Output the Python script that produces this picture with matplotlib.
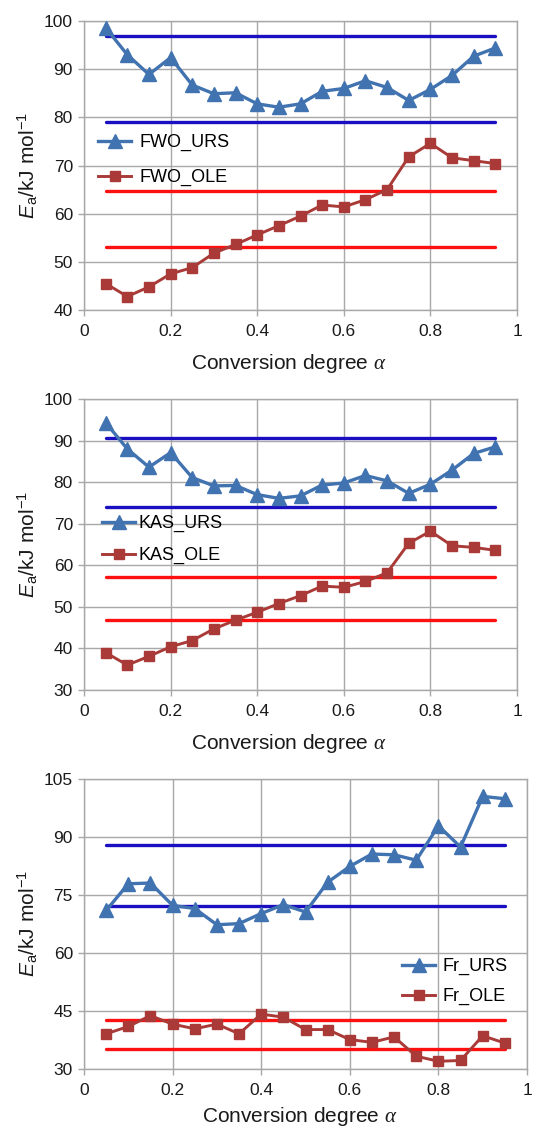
import matplotlib
matplotlib.use("Agg")
import matplotlib.pyplot as plt
import numpy as np

plt.rcParams['font.family'] = ['Liberation Sans', 'DejaVu Sans']
plt.rcParams['mathtext.fontset'] = 'custom'
plt.rcParams['mathtext.rm'] = 'Liberation Sans'
plt.rcParams['mathtext.it'] = 'Liberation Serif:italic'
plt.rcParams['mathtext.sf'] = 'Liberation Sans:italic'

alpha = [0.05, 0.1, 0.15, 0.2, 0.25, 0.3, 0.35, 0.4, 0.45, 0.5,
         0.55, 0.6, 0.65, 0.7, 0.75, 0.8, 0.85, 0.9, 0.95]

# FWO method
fwo_urs = [98.6, 93.0, 88.9, 92.4, 86.7, 84.9, 85.1, 82.8, 82.1, 82.8,
           85.4, 86.0, 87.6, 86.2, 83.5, 85.8, 88.7, 92.7, 94.4]
fwo_ole = [45.5, 42.8, 44.8, 47.5, 48.8, 51.8, 53.6, 55.6, 57.5, 59.5,
           61.8, 61.4, 62.9, 65.0, 71.8, 74.6, 71.6, 71.0, 70.4]
fwo_urs_band = [79.1, 96.8]
fwo_ole_band = [53.0, 64.7]

# KAS method
kas_urs = [94.3, 88.0, 83.6, 87.1, 81.1, 79.1, 79.2, 77.0, 76.1, 76.7,
           79.3, 79.8, 81.6, 80.3, 77.3, 79.5, 82.9, 86.9, 88.5]
kas_ole = [39.0, 36.0, 38.1, 40.4, 41.9, 44.7, 46.8, 48.7, 50.8, 52.7,
           55.0, 54.7, 56.1, 58.2, 65.3, 68.2, 64.7, 64.3, 63.6]
kas_urs_band = [74.1, 90.5]
kas_ole_band = [46.9, 57.3]

# Friedman method
fr_urs = [71.0, 77.9, 78.1, 72.3, 71.5, 67.3, 67.6, 70.2, 72.5, 70.6,
          78.3, 82.4, 85.6, 85.4, 84.0, 92.9, 87.4, 100.5, 99.9]
fr_ole = [39.1, 41.0, 43.8, 41.6, 40.4, 41.6, 39.1, 44.2, 43.4, 40.2,
          40.2, 37.6, 36.9, 38.3, 33.3, 32.0, 32.2, 38.6, 36.7]
fr_urs_band = [72.1, 88.0]
fr_ole_band = [35.1, 42.8]

URS_C = '#4173b0'
OLE_C = '#a93a37'
BAND_B = '#1a0fc0'
BAND_R = '#ff1010'
GRID_C = '#a8a8a8'
TXT_C = '#1a1a1a'

W, H = 534, 1129
fig = plt.figure(figsize=(W / 100, H / 100), dpi=100)


def panel(box, urs, ole, urs_band, ole_band, names, ylim, yticks,
          leg_xy, leg_pad, leg_gap, xlab_xy):
    l, t, r, b = box
    ax = fig.add_axes([l / W, 1 - b / H, (r - l) / W, (b - t) / H])
    for y in urs_band:
        ax.plot([alpha[0], alpha[-1]], [y, y], color=BAND_B, lw=2.4,
                solid_capstyle='round', zorder=2)
    for y in ole_band:
        ax.plot([alpha[0], alpha[-1]], [y, y], color=BAND_R, lw=2.4,
                solid_capstyle='round', zorder=2)
    h1, = ax.plot(alpha, urs, color=URS_C, lw=2.4, marker='^', ms=10,
                  label=names[0], zorder=3)
    h2, = ax.plot(alpha, ole, color=OLE_C, lw=2.1, marker='s', ms=7.5,
                  label=names[1], zorder=3)
    ax.set_xlim(0, 1)
    ax.set_ylim(*ylim)
    ax.set_xticks([0, 0.2, 0.4, 0.6, 0.8, 1])
    ax.set_xticklabels(['0', '0.2', '0.4', '0.6', '0.8', '1'])
    ax.set_yticks(yticks)
    ax.grid(True, color=GRID_C, lw=1.0)
    ax.set_axisbelow(True)
    for s in ax.spines.values():
        s.set_color(GRID_C)
        s.set_linewidth(1.0)
    ax.tick_params(axis='both', colors=GRID_C, labelcolor=TXT_C,
                   labelsize=12.5, length=4, width=1.0, direction='out')
    ax.tick_params(axis='x', pad=6)
    ax.tick_params(axis='y', pad=4)
    ax.set_xlabel(r'Conversion degree $\alpha$', fontsize=15, color=TXT_C)
    # x label: centre x in px, gap under the axes in px
    ax.xaxis.set_label_coords((xlab_xy[0] - l) / (r - l), -xlab_xy[1] / (b - t))
    ax.set_ylabel(r'$\mathsf{E}_{\mathrm{a}}$/kJ mol$^{-1}$', fontsize=15,
                  color=TXT_C, labelpad=3)
    ax.legend(handles=[h1, h2], loc='upper left',
              bbox_to_anchor=(leg_xy[0] / W, 1 - leg_xy[1] / H),
              bbox_transform=fig.transFigure, frameon=False, fontsize=13,
              handlelength=1.85, handletextpad=leg_pad, labelspacing=leg_gap,
              borderpad=0, borderaxespad=0)
    return ax


a1 = panel((84, 21, 517, 310), fwo_urs, fwo_ole, fwo_urs_band, fwo_ole_band,
           ['FWO_URS', 'FWO_OLE'], (40, 100), range(40, 101, 10),
           (98, 134), 0.45, 1.0, (289, 42))
a2 = panel((84, 399, 517, 690), kas_urs, kas_ole, kas_urs_band, kas_ole_band,
           ['KAS_URS', 'KAS_OLE'], (30, 100), range(30, 101, 10),
           (102, 515), 0.15, 0.83, (289, 42))
a3 = panel((84, 779, 527, 1069), fr_urs, fr_ole, fr_urs_band, fr_ole_band,
           ['Fr_URS', 'Fr_OLE'], (30, 105), range(30, 106, 15),
           (402, 958), 0.38, 0.72, (300, 36))

fig.savefig('out.png', dpi=100)
